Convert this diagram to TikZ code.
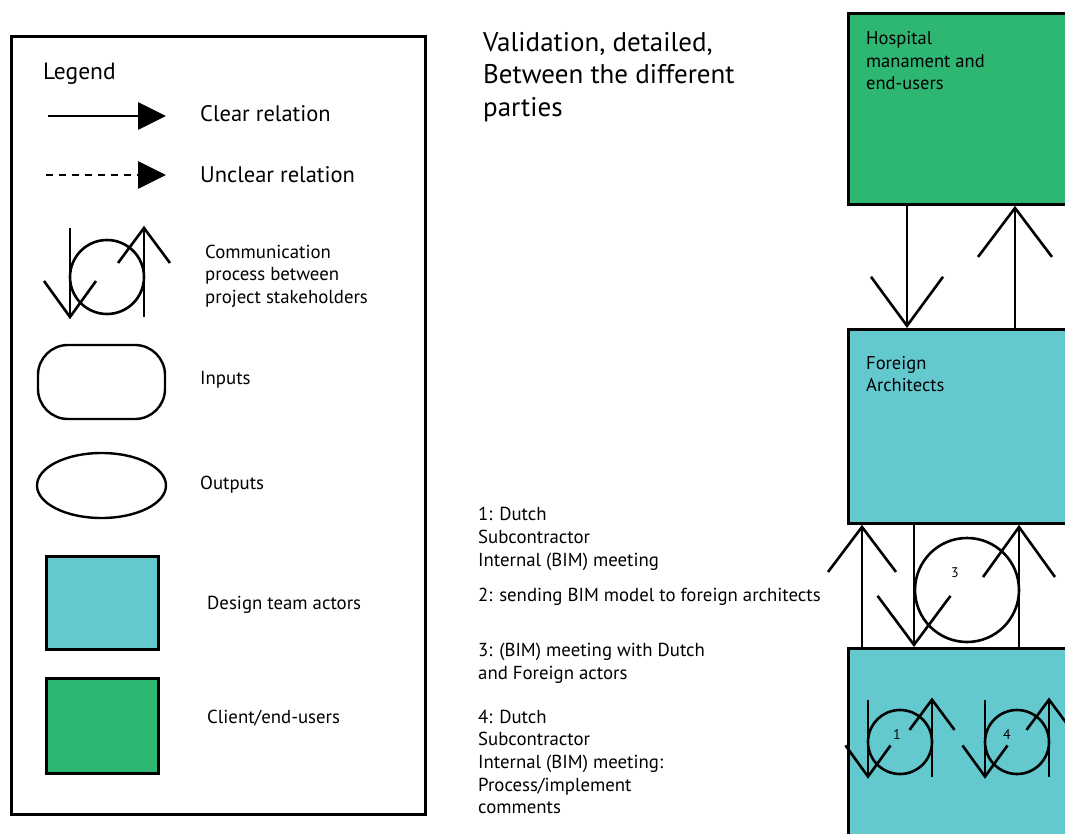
\documentclass[tikz,border=0pt]{standalone}
\usepackage{fontspec}
\setmainfont{PT Sans}
\usetikzlibrary{shapes.geometric,arrows.meta}
\definecolor{cgreen}{HTML}{2EB673}
\definecolor{ccyan}{HTML}{63C9CF}
\tikzset{
  box/.style={draw=black, line width=2.8pt, anchor=north west, inner sep=0pt},
  ln/.style={line width=2.6pt},
  txt/.style={anchor=west, inner sep=0pt, align=left, font=\fontsize{18.8}{22.7}\selectfont},
  ltxt/.style={anchor=west, inner sep=0pt, align=left, font=\fontsize{22.5}{26}\selectfont},
  numlbl/.style={inner sep=0pt, font=\fontsize{14}{16}\selectfont},
  comm/.pic={
    \draw[line width=2.6pt] (-37,-49) -- (-37,40);
    \draw[line width=2.6pt] (-63,4) -- (-37,40) -- (-11,4);
    \draw[line width=2.6pt] (37,40) -- (37,-49);
    \draw[line width=2.6pt] (11,-14) -- (37,-49) -- (63,-14);
    \draw[line width=2.6pt] (0,0) circle (37);
  }
}
\begin{document}
\begin{tikzpicture}[x=1pt,y=-1pt]
\path[use as bounding box] (0,0) rectangle (1065,834);
\clip (0,0) rectangle (1065,834);
\fill[white] (0,0) rectangle (1065,834);

% ---------- Legend ----------
\node[box, line width=3.2pt, minimum width=414pt, minimum height=778pt] (legend) at (10,35) {};
\node[ltxt, font=\fontsize{23.5}{26}\selectfont] (lg) at (43,74) {Legend};

\coordinate (ca) at (48,116);
\coordinate (cb) at (166,116);
\draw[line width=2.8pt, -{Triangle[length=28pt,width=27pt]}] (ca) -- (cb);
\node[ltxt] (lclear) at (200,114) {Clear relation};

\coordinate (ua) at (46,175);
\coordinate (ub) at (166,175);
\draw[line width=2.8pt, dash pattern=on 7pt off 6pt, -{Triangle[length=28pt,width=27pt]}] (ua) -- (ub);
\node[ltxt] (lunclear) at (200,175) {Unclear relation};

\pic at (107,277) {comm};
\node[txt] (lcomm) at (205,276) {Communication\\process between\\project stakeholders};

\node[draw, line width=2.4pt, rounded corners=30pt, minimum width=127pt, minimum height=74pt, inner sep=0pt] (inp) at (101.5,382) {};
\node[txt] (linp) at (200,380) {Inputs};

\node[draw, ellipse, line width=2.4pt, minimum width=129pt, minimum height=65pt, inner sep=0pt] (outp) at (101.5,485.5) {};
\node[txt] (loutp) at (200,485) {Outputs};

\node[box, fill=ccyan, minimum width=112pt, minimum height=93pt] (sqd) at (45,555) {};
\node[txt] (ldes) at (207,605) {Design team actors};

\node[box, fill=cgreen, minimum width=112pt, minimum height=95pt] (sqc) at (45,677) {};
\node[txt] (lcli) at (207,718) {Client/end-users};

% ---------- Title ----------
\node[anchor=west, inner sep=0pt, align=left, font=\fontsize{27}{32.5}\selectfont] (title) at (483,77)
  {Validation, detailed,\\Between the different\\parties};

% ---------- Numbered notes ----------
\node[txt] (n1) at (478,539) {1: Dutch\\Subcontractor\\Internal (BIM) meeting};
\node[txt] (n2) at (478,597) {2: sending BIM model to foreign architects};
\node[txt] (n3) at (478,663.5) {3: (BIM) meeting with Dutch\\and Foreign actors};
\node[txt] (n4) at (478,762) {4: Dutch\\Subcontractor\\Internal (BIM) meeting:\\Process/implement\\comments};

% ---------- Right-hand column ----------
\node[box, fill=cgreen, minimum width=240pt, minimum height=191pt] (hosp) at (847,12) {};
\node[txt, font=\fontsize{18.5}{22.5}\selectfont] (lhosp) at (866,61) {Hospital\\manament and\\end-users};

\node[box, fill=ccyan, minimum width=240pt, minimum height=194pt] (fa) at (847,328) {};
\node[txt, font=\fontsize{18.5}{22.5}\selectfont] (lfa) at (866,374) {Foreign\\Architects};

\node[box, fill=ccyan, minimum width=240pt, minimum height=200pt] (dutch) at (847,647) {};

\coordinate (xa) at (907,0);
\coordinate (xb) at (1015,0);
\coordinate (xc) at (862,0);
\coordinate (xd) at (914,0);
\coordinate (xe) at (1019,0);

\draw[ln, -{Straight Barb[length=49pt,width=72pt]}] (hosp.south -| xa) -- (fa.north -| xa);
\draw[ln, -{Straight Barb[length=49pt,width=74pt]}] (fa.north -| xb) -- (hosp.south -| xb);

\draw[ln, -{Straight Barb[length=45pt,width=68pt]}] (dutch.north -| xc) -- (fa.south -| xc);
\draw[ln, -{Straight Barb[length=49pt,width=73pt]}] (fa.south -| xd) -- (dutch.north -| xd);
\draw[ln, -{Straight Barb[length=50pt,width=72pt]}] (dutch.north -| xe) -- (fa.south -| xe);
\draw[ln] (967,590) circle (52);
\node[numlbl] (l3) at (955,573) {3};

\pic[scale=0.865] at (900,742) {comm};
\node[numlbl] (l1) at (897,735) {1};
\pic[scale=0.865] at (1017,742) {comm};
\node[numlbl] (l4) at (1007,735) {4};
\end{tikzpicture}
\end{document}
